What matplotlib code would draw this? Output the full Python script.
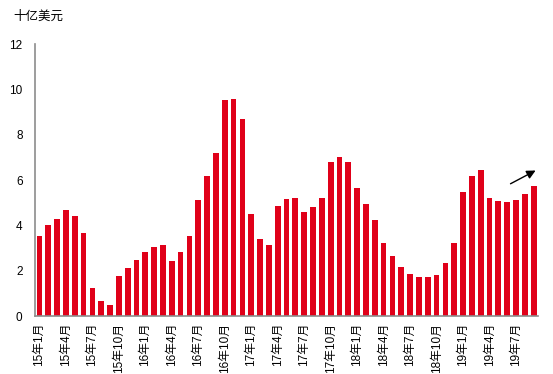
import matplotlib
matplotlib.use("Agg")
import matplotlib.pyplot as plt
import numpy as np

plt.rcParams['font.family'] = ['Liberation Sans', 'Noto Sans CJK SC', 'DejaVu Sans']

months = [f"{y}年{m}月" for y in range(15, 20) for m in range(1, 13)][:57]
values = [3.54, 4.00, 4.29, 4.68, 4.40, 3.66, 1.25, 0.66, 0.50, 1.76, 2.13, 2.49,
          2.82, 3.03, 3.12, 2.43, 2.82, 3.51, 5.13, 6.18, 7.21, 9.54, 9.60, 8.71,
          4.50, 3.38, 3.15, 4.85, 5.16, 5.22, 4.59, 4.79, 5.19, 6.81, 7.04, 6.81,
          5.66, 4.94, 4.24, 3.21, 2.63, 2.18, 1.85, 1.71, 1.72, 1.82, 2.34, 3.21,
          5.49, 6.18, 6.43, 5.22, 5.07, 5.03, 5.13, 5.38, 5.74]
arrow_start = (53.1, 5.78)
arrow_end = (56.5, 6.48)

fig = plt.figure(figsize=(5.53, 3.74), dpi=100)
ax = fig.add_axes([0.0633, 0.155, 0.9097, 0.727])
x = np.arange(len(values))
ax.bar(x, values, width=0.65, color='#E00019')
ax.set_xlim(-0.5, 56.5)
ax.set_ylim(0, 12)
ax.set_yticks(range(0, 13, 2))
ax.set_xticks(x[::3])
ax.set_xticklabels(months[::3], rotation=90, fontsize=8.5)
ax.tick_params(axis='both', length=0, labelsize=8.5)
ax.tick_params(axis='y', pad=9)
ax.tick_params(axis='x', pad=5)
for s in ['top', 'right']:
    ax.spines[s].set_visible(False)
for s in ['left', 'bottom']:
    ax.spines[s].set_color('#8c8c8c')
    ax.spines[s].set_linewidth(1.2)
ax.annotate('', xy=arrow_end, xytext=arrow_start,
            arrowprops=dict(arrowstyle='-|>', color='black', lw=1, mutation_scale=13))
fig.text(0.025, 0.955, '十亿美元', fontsize=9, va='center', ha='left')
fig.savefig('out.png', dpi=100)
